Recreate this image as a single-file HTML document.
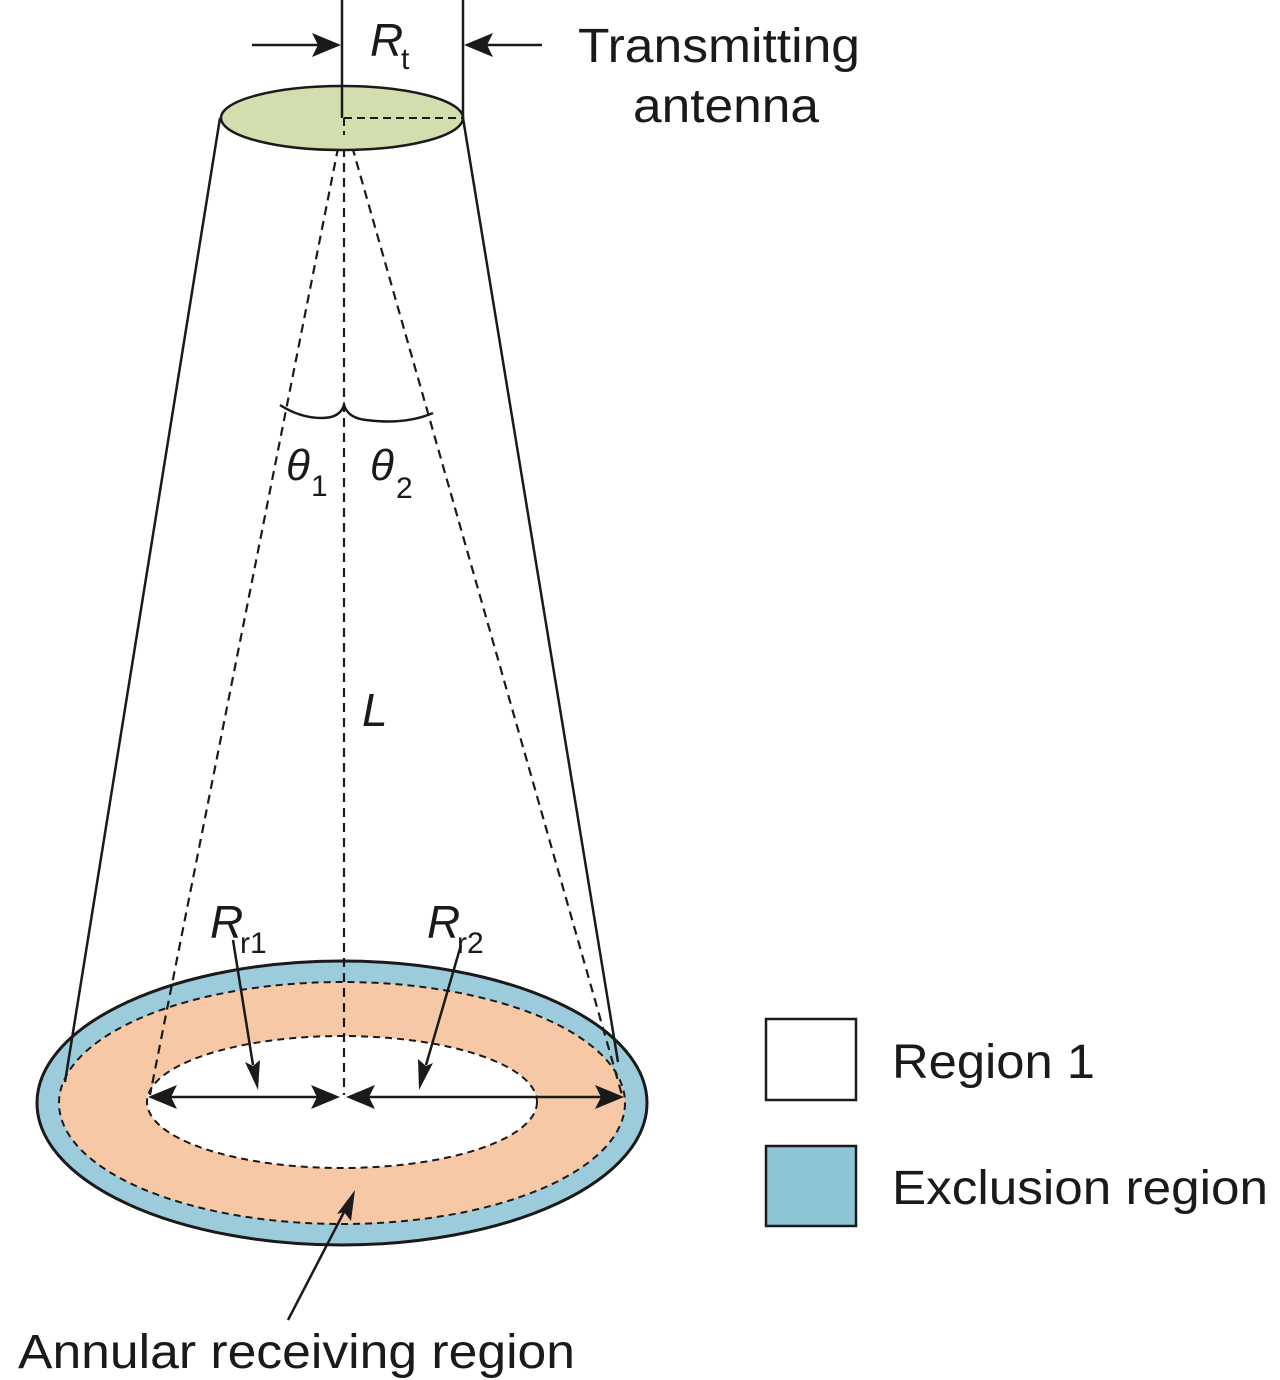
<!DOCTYPE html>
<html><head><style>
html,body{margin:0;padding:0;background:#fff;}
svg{display:block;}
text{font-family:"Liberation Sans",sans-serif;fill:#1a1a1a;}
</style></head><body>
<svg width="1280" height="1380" viewBox="0 0 1280 1380" xmlns="http://www.w3.org/2000/svg">
<ellipse cx="342" cy="1103" rx="305" ry="142" fill="#9ccbdb" stroke="#1a1a1a" stroke-width="3"/>
<ellipse cx="342" cy="1103" rx="283" ry="121" fill="#f6c8a5" stroke="#1a1a1a" stroke-width="2" stroke-dasharray="7,5"/>
<ellipse cx="342" cy="1102" rx="195" ry="66" fill="#fff" stroke="#1a1a1a" stroke-width="2" stroke-dasharray="7,5"/>
<line x1="220" y1="118" x2="65" y2="1082" stroke="#1a1a1a" stroke-width="2.5"/>
<line x1="463" y1="118" x2="618" y2="1062" stroke="#1a1a1a" stroke-width="2.5"/>
<g stroke="#1a1a1a" stroke-width="2.2" stroke-dasharray="9,6" fill="none">
<line x1="344" y1="118" x2="344" y2="1095"/>
<line x1="344" y1="118" x2="150" y2="1095"/>
<line x1="344" y1="118" x2="622" y2="1095"/>
</g>
<ellipse cx="342" cy="118" rx="121" ry="32" fill="#d3deaf" stroke="#1a1a1a" stroke-width="2.5"/>
<line x1="344" y1="118" x2="463" y2="118" stroke="#1a1a1a" stroke-width="2" stroke-dasharray="8,5"/>
<line x1="344" y1="118" x2="344" y2="135" stroke="#1a1a1a" stroke-width="2" stroke-dasharray="8,5"/>
<line x1="342" y1="0" x2="342" y2="118" stroke="#1a1a1a" stroke-width="2.5"/>
<line x1="463" y1="0" x2="463" y2="118" stroke="#1a1a1a" stroke-width="2.5"/>
<g stroke="#1a1a1a" stroke-width="2.5" fill="#1a1a1a">
<line x1="252" y1="45" x2="320" y2="45"/>
<polygon points="341,45 312,33 318,45 312,57" stroke="none"/>
<line x1="542" y1="45" x2="486" y2="45"/>
<polygon points="464,45 493,33 487,45 493,57" stroke="none"/>
</g>
<path d="M280,405 Q300,418 322,418 Q340,418 344,405 Q348,418 366,420 Q405,425 433,413" fill="none" stroke="#1a1a1a" stroke-width="2.5"/>
<g stroke="#1a1a1a" stroke-width="2.5" fill="#1a1a1a">
<line x1="170" y1="1097" x2="318" y2="1097"/>
<polygon points="148,1097 177,1085 171,1097 177,1109" stroke="none"/>
<polygon points="340,1097 311,1085 317,1097 311,1109" stroke="none"/>
<line x1="368" y1="1097" x2="602" y2="1097"/>
<polygon points="346,1097 375,1085 369,1097 375,1109" stroke="none"/>
<polygon points="624,1097 595,1085 601,1097 595,1109" stroke="none"/>
<line x1="233" y1="940" x2="253" y2="1065"/>
<polygon points="258,1090 245,1062 253,1066 260,1060" stroke="none"/>
<line x1="461" y1="945" x2="426" y2="1065"/>
<polygon points="419,1090 418,1059 426,1066 433,1063" stroke="none"/>
<line x1="288" y1="1320" x2="344" y2="1212"/>
<polygon points="355,1190 351,1221 344,1212 337,1214" stroke="none"/>
</g>
<text x="370" y="56" font-size="46" font-style="italic">R</text>
<text x="401" y="69" font-size="30">t</text>
<text x="578" y="62" font-size="48" textLength="282" lengthAdjust="spacingAndGlyphs">Transmitting</text>
<text x="633" y="122" font-size="48" textLength="186" lengthAdjust="spacingAndGlyphs">antenna</text>
<text x="286" y="480" font-size="44" font-style="italic">θ</text>
<text x="311" y="496" font-size="30">1</text>
<text x="370" y="480" font-size="44" font-style="italic">θ</text>
<text x="396" y="498" font-size="30">2</text>
<text x="362" y="726" font-size="46" font-style="italic">L</text>
<text x="210" y="938" font-size="46" font-style="italic">R</text>
<text x="240" y="953" font-size="30">r1</text>
<text x="427" y="938" font-size="46" font-style="italic">R</text>
<text x="457" y="953" font-size="30">r2</text>
<text x="18" y="1368" font-size="48" textLength="557" lengthAdjust="spacingAndGlyphs">Annular receiving region</text>
<rect x="766" y="1019" width="90" height="81" fill="#fff" stroke="#1a1a1a" stroke-width="2.5"/>
<rect x="766" y="1146" width="90" height="80" fill="#8ec5d6" stroke="#1a1a1a" stroke-width="2.5"/>
<text x="892" y="1078" font-size="48" textLength="203" lengthAdjust="spacingAndGlyphs">Region 1</text>
<text x="892" y="1204" font-size="48" textLength="376" lengthAdjust="spacingAndGlyphs">Exclusion region</text>
</svg>
</body></html>
